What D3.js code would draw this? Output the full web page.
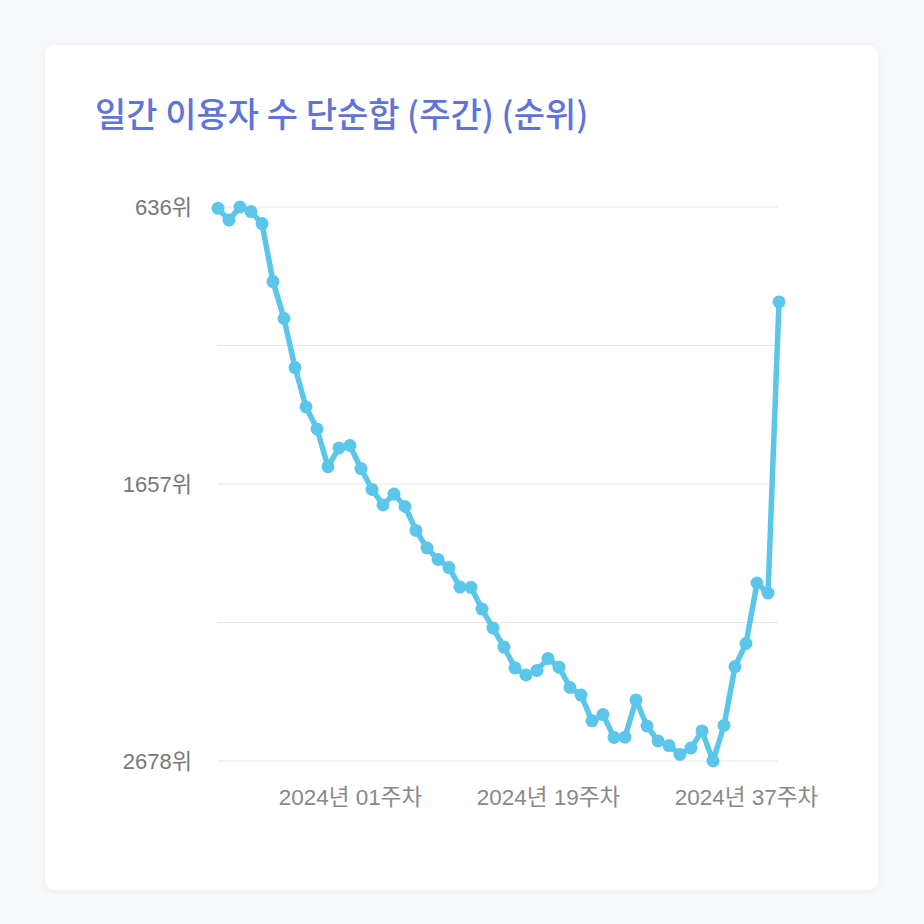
<!DOCTYPE html>
<html><head><meta charset="utf-8">
<script src="https://cdn.jsdelivr.net/npm/d3@7"></script>
<style>
html,body{margin:0;padding:0;background:#f7f8fa;}
svg{display:block;}
</style></head>
<body>
<svg id="c" width="924" height="924"></svg>
<script>
const weeks = ["2023년 41주차","2023년 42주차","2023년 43주차","2023년 44주차","2023년 45주차","2023년 46주차","2023년 47주차","2023년 48주차","2023년 49주차","2023년 50주차","2023년 51주차","2023년 52주차",
"2024년 01주차","2024년 02주차","2024년 03주차","2024년 04주차","2024년 05주차","2024년 06주차","2024년 07주차","2024년 08주차","2024년 09주차","2024년 10주차","2024년 11주차","2024년 12주차","2024년 13주차","2024년 14주차","2024년 15주차","2024년 16주차","2024년 17주차","2024년 18주차","2024년 19주차","2024년 20주차","2024년 21주차","2024년 22주차","2024년 23주차","2024년 24주차","2024년 25주차","2024년 26주차","2024년 27주차","2024년 28주차","2024년 29주차","2024년 30주차","2024년 31주차","2024년 32주차","2024년 33주차","2024년 34주차","2024년 35주차","2024년 36주차","2024년 37주차","2024년 38주차","2024년 39주차","2024년 40주차"];
const ranks = [641,684,636,653,697,911,1047,1228,1373,1454,1593,1524,1515,1600,1677,1734,1694,1740,1828,1893,1935,1965,2037,2038,2118,2188,2258,2335,2361,2344,2300,2332,2407,2435,2530,2507,2591,2590,2453,2549,2604,2621,2654,2630,2567,2678,2547,2330,2245,2022,2059,986];
const yTickLabels = [636,1657,2678];
const xTickLabels = ["2024년 01주차","2024년 19주차","2024년 37주차"];
const title = "일간 이용자 수 단순합 (주간) (순위)";

const svg = d3.select("#c");
const font = "'Noto Sans CJK KR','Noto Sans',sans-serif";
const lfont = "'Liberation Sans','Noto Sans CJK KR',sans-serif";
const defs = svg.append("defs");
const f = defs.append("filter").attr("id","sh").attr("x","-10%").attr("y","-10%").attr("width","120%").attr("height","120%");
f.append("feDropShadow").attr("dx",0).attr("dy",1).attr("stdDeviation",3).attr("flood-color","#000").attr("flood-opacity",0.06);
svg.append("rect").attr("x",45).attr("y",45).attr("width",833).attr("height",845).attr("rx",10).attr("fill","#fff").attr("filter","url(#sh)");

svg.append("text").attr("x",95).attr("y",127).attr("font-family",font).attr("font-size",34).attr("font-weight",500)
  .attr("fill","#6073d8").text(title);

const x = d3.scalePoint().domain(weeks).range([218,779]);
const y = d3.scaleLinear().domain([636,2678]).range([207,761]);

const gridVals = d3.range(5).map(i=>636 + i*(2678-636)/4);
svg.append("g").selectAll("line").data(gridVals).join("line")
  .attr("x1",218).attr("x2",778).attr("y1",d=>y(d)).attr("y2",d=>y(d))
  .attr("stroke","#e6e6e6").attr("stroke-width",1);

const yAxis = d3.axisLeft(y).tickValues(yTickLabels).tickSize(0).tickPadding(0).tickFormat(d=>d+"위");
const gy = svg.append("g").attr("transform","translate(192,0)").call(yAxis);
gy.select(".domain").remove();
gy.selectAll("text").attr("font-family",lfont).attr("font-size",22).attr("fill","#777").attr("dy","0.35em");

const xAxis = d3.axisBottom(x).tickValues(xTickLabels).tickSize(0).tickPadding(0);
const gx = svg.append("g").attr("transform","translate(0,788)").call(xAxis);
gx.select(".domain").remove();
gx.selectAll("text").attr("font-family",lfont).attr("font-size",22.5).attr("fill","#888").attr("dy","0.75em");

const line = d3.line().x((d,i)=>x(weeks[i])).y(d=>y(d));
svg.append("path").datum(ranks).attr("d",line).attr("fill","none").attr("stroke","#5bc5ea").attr("stroke-width",5.5).attr("stroke-linejoin","round");
svg.append("g").selectAll("circle").data(ranks).join("circle")
  .attr("cx",(d,i)=>x(weeks[i])).attr("cy",d=>y(d)).attr("r",6.5).attr("fill","#5bc5ea");
</script>
</body></html>
